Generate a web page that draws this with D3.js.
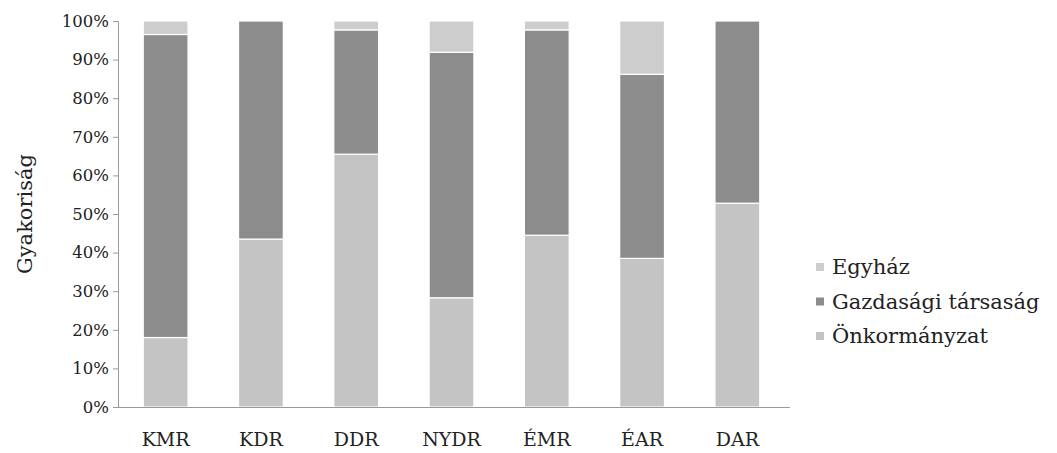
<!DOCTYPE html>
<html>
<head>
<meta charset="utf-8">
<script src="https://cdn.jsdelivr.net/npm/d3@7"></script>
<style>
  body { margin: 0; background: #fff; }
  text { font-family: "DejaVu Serif", "Liberation Serif", serif; fill: #222; }
</style>
</head>
<body>
<div id="wrapper"></div>
<script>
// data
const regions = ["KMR", "KDR", "DDR", "NYDR", "ÉMR", "ÉAR", "DAR"]
const onkormanyzat = [18, 43.5, 65.5, 28.3, 44.5, 38.5, 52.8]
const gazdasagi = [78.5, 56.5, 32.2, 63.6, 53.2, 47.7, 47.2]
const egyhaz = [3.5, 0, 2.3, 8.1, 2.3, 13.8, 0]
const seriesNames = ["Önkormányzat", "Gazdasági társaság", "Egyház"]
const yTicks = [0, 10, 20, 30, 40, 50, 60, 70, 80, 90, 100]

const seriesColors = {
  "Önkormányzat": "#c4c4c4",
  "Gazdasági társaság": "#8c8c8c",
  "Egyház": "#cdcdcd",
}

const table = regions.map((r, i) => ({
  region: r,
  "Önkormányzat": onkormanyzat[i],
  "Gazdasági társaság": gazdasagi[i],
  "Egyház": egyhaz[i],
}))

const fontFamily = "DejaVu Serif, Liberation Serif, serif"

const dimensions = {
  width: 1057,
  height: 453,
  margin: { top: 21, right: 272, bottom: 46, left: 118 },
}
dimensions.boundedWidth = dimensions.width - dimensions.margin.left - dimensions.margin.right
dimensions.boundedHeight = dimensions.height - dimensions.margin.top - dimensions.margin.bottom

const wrapper = d3.select("#wrapper")
  .append("svg")
    .attr("width", dimensions.width)
    .attr("height", dimensions.height)

const bounds = wrapper.append("g")
  .attr("transform", `translate(${dimensions.margin.left}, ${dimensions.margin.top})`)

const xScale = d3.scaleBand()
  .domain(regions)
  .range([0, dimensions.boundedWidth])
  .paddingInner(0.53)
  .paddingOuter(0.265)

const yScale = d3.scaleLinear()
  .domain([0, 100])
  .range([dimensions.boundedHeight, 0])

const stacked = d3.stack().keys(seriesNames)(table)

// bars
const layers = bounds.append("g").selectAll("g")
  .data(stacked)
  .join("g")
    .attr("fill", d => seriesColors[d.key])

layers.selectAll("rect")
  .data(d => d)
  .join("rect")
    .attr("x", d => xScale(d.data.region))
    .attr("width", xScale.bandwidth())
    .attr("y", d => yScale(d[1]))
    .attr("height", d => Math.max(0, yScale(d[0]) - yScale(d[1])))
    .attr("stroke", "#fff")
    .attr("stroke-width", d => d[1] - d[0] > 0 ? 1.2 : 0)

// y axis
const yAxis = bounds.append("g")
  .call(d3.axisLeft(yScale).tickValues(yTicks).tickSize(5).tickFormat(d => d + "%"))
yAxis.select(".domain").attr("stroke", "#999")
yAxis.selectAll(".tick line").attr("stroke", "#999")
yAxis.selectAll(".tick text")
  .attr("x", -9)
  .style("font-size", "16.5px")
  .style("font-family", fontFamily)
  .attr("fill", "#333")

yAxis.append("text")
  .attr("transform", "rotate(-90)")
  .attr("x", -dimensions.boundedHeight / 2)
  .attr("y", -86)
  .attr("text-anchor", "middle")
  .style("font-size", "21px")
  .style("font-family", fontFamily)
  .attr("fill", "#333")
  .text("Gyakoriság")

// x axis
const xAxis = bounds.append("g")
  .attr("transform", `translate(0, ${dimensions.boundedHeight})`)
  .call(d3.axisBottom(xScale).tickSize(0))
xAxis.select(".domain").attr("stroke", "#999").attr("d", `M0,0.5H${dimensions.boundedWidth + 5}`)
xAxis.selectAll(".tick text")
  .attr("y", 26)
  .style("font-size", "19px")
  .style("font-family", fontFamily)
  .attr("fill", "#333")

// legend
const legendItems = seriesNames.slice().reverse()
const legend = wrapper.append("g")
  .attr("transform", "translate(816, 267)")

const legendRows = legend.selectAll("g")
  .data(legendItems)
  .join("g")
    .attr("transform", (d, i) => `translate(0, ${i * 34.5})`)

legendRows.append("rect")
  .attr("x", 0)
  .attr("y", -4)
  .attr("width", 8)
  .attr("height", 8)
  .attr("fill", d => seriesColors[d])

legendRows.append("text")
  .attr("x", 16)
  .attr("y", 0)
  .attr("dy", "0.35em")
  .style("font-size", "21px")
  .style("font-family", fontFamily)
  .attr("fill", "#333")
  .text(d => d)
</script>
</body>
</html>
